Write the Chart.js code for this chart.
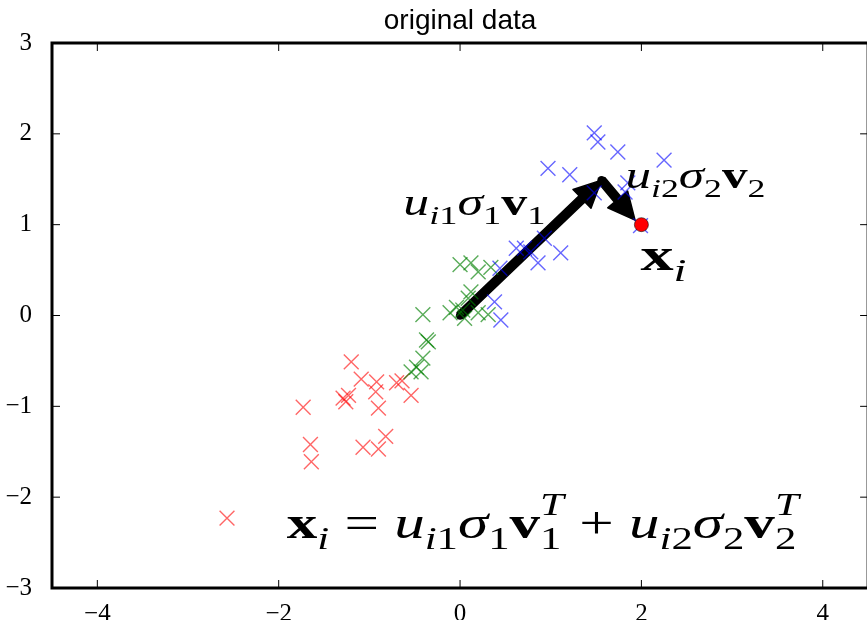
<!DOCTYPE html>
<html>
<head>
<meta charset="utf-8">
<script src="https://cdn.jsdelivr.net/npm/chart.js@4.4.0/dist/chart.umd.min.js"></script>
<style>
  html, body { margin: 0; padding: 0; overflow: hidden; background: #fff; }
  canvas { display: block; }
</style>
</head>
<body>
<canvas id="chOriginal" width="880" height="620"></canvas>
<script>
// Data
const X_TICKS = [-4, -2, 0, 2, 4];
const Y_TICKS = [-3, -2, -1, 0, 1, 2, 3];

const redPts = [
    { x: -1.73, y: -1.01 }, { x: -1.65, y: -1.42 }, { x: -1.64, y: -1.61 },
    { x: -1.20, y: -0.51 }, { x: -1.29, y: -0.91 }, { x: -1.26, y: -0.95 },
    { x: -1.23, y: -0.88 }, { x: -1.09, y: -0.70 }, { x: -0.92, y: -0.73 },
    { x: -0.93, y: -0.84 }, { x: -0.90, y: -1.02 }, { x: -1.07, y: -1.45 },
    { x: -0.90, y: -1.47 }, { x: -0.82, y: -1.33 }, { x: -0.70, y: -0.74 },
    { x: -0.64, y: -0.72 }, { x: -0.54, y: -0.88 }, { x: -2.57, y: -2.23 }
];
const greenPts = [
    { x: -0.35, y: -0.29 }, { x: -0.37, y: -0.27 }, { x: -0.41, y: -0.47 },
    { x: -0.54, y: -0.62 }, { x: -0.43, y: -0.62 }, { x: -0.48, y: -0.57 },
    { x: -0.41, y: 0.01 }, { x: -0.11, y: 0.03 }, { x: -0.04, y: 0.09 },
    { x: 0.03, y: 0.06 }, { x: 0.05, y: -0.03 }, { x: 0.20, y: 0.03 },
    { x: 0.31, y: 0.01 }, { x: 0.09, y: 0.19 }, { x: 0.12, y: 0.26 },
    { x: 0.00, y: 0.56 }, { x: 0.12, y: 0.58 }, { x: 0.20, y: 0.48 },
    { x: 0.34, y: 0.53 }
];
const bluePts = [
    { x: 1.48, y: 2.01 }, { x: 1.52, y: 1.91 }, { x: 1.74, y: 1.80 },
    { x: 2.25, y: 1.71 }, { x: 0.97, y: 1.62 }, { x: 1.21, y: 1.55 },
    { x: 1.48, y: 1.35 }, { x: 1.85, y: 1.46 }, { x: 1.82, y: 1.36 },
    { x: 0.93, y: 0.85 }, { x: 0.71, y: 0.74 }, { x: 0.78, y: 0.70 },
    { x: 0.86, y: 0.58 }, { x: 1.11, y: 0.69 }, { x: 0.44, y: 0.52 },
    { x: 0.62, y: 0.74 }, { x: 0.38, y: 0.15 }, { x: 0.45, y: -0.05 },
    { x: 1.99, y: 0.99 }
];
const xiPoint = [{ x: 2, y: 1 }];

// the two component arrows: start -> tip
const arrowV1 = [{ x: 0, y: 0 }, { x: 1.56, y: 1.49 }];
const arrowV2 = [{ x: 1.56, y: 1.49 }, { x: 1.93, y: 1.05 }];

// math labels: [text, font, position, stacked-on-previous]
const lblV1 = [['u', 'i'], ['i', 'i', 'sub'], ['1', 'r', 'sub'], ['σ', 'i'], ['1', 'r', 'sub'], ['v', 'b'], ['1', 'r', 'sub']];
const lblV2 = [['u', 'i'], ['i', 'i', 'sub'], ['2', 'r', 'sub'], ['σ', 'i'], ['2', 'r', 'sub'], ['v', 'b'], ['2', 'r', 'sub']];
const lblXi = [['x', 'b'], ['i', 'i', 'sub']];
const lblFormula = [
    ['x', 'b'], ['i', 'i', 'sub'], [' = ', 'r'],
    ['u', 'i'], ['i', 'i', 'sub'], ['1', 'r', 'sub'], ['σ', 'i'], ['1', 'r', 'sub'], ['v', 'b'], ['1', 'r', 'sub'], ['T', 'i', 'sup', true],
    [' + ', 'r'],
    ['u', 'i'], ['i', 'i', 'sub'], ['2', 'r', 'sub'], ['σ', 'i'], ['2', 'r', 'sub'], ['v', 'b'], ['2', 'r', 'sub'], ['T', 'i', 'sup', true]
];

const SERIF = '"Liberation Serif", "DejaVu Serif", serif';
const fmt = v => (v < 0 ? '\u2212' + Math.abs(v) : String(v));

const mathFont = (kind, size) =>
    (kind === 'i' ? 'italic ' : kind === 'b' ? 'bold ' : '') + size + 'px ' + SERIF;

// lays the segments out; returns total width (draws when draw=true)
function layMath(ctx, segs, x0, base, size, draw) {
    let x = x0, prevStart = x0, prevW = 0;
    segs.forEach(([t, f, pos, stack]) => {
        const s = pos ? size * 0.7 : size;
        ctx.font = mathFont(f, s);
        const w = ctx.measureText(t).width;
        const sx = stack ? prevStart : x;
        const dy = pos === 'sub' ? size * 0.24 : pos === 'sup' ? -size * 0.5 : 0;
        if (draw) ctx.fillText(t, sx, base + dy);
        if (stack) {
            x = prevStart + Math.max(prevW, w);
        } else {
            prevStart = sx; prevW = w; x = sx + w;
        }
    });
    return x - x0;
}

// draw at a given size, stretched sideways to the width seen in the picture
function drawMath(ctx, segs, x0, base, size, width) {
    const w = layMath(ctx, segs, 0, 0, size, false);
    ctx.save();
    ctx.translate(x0, base);
    ctx.scale(width / w, 1);
    layMath(ctx, segs, 0, 0, size, true);
    ctx.restore();
}

const framePlugin = {
    id: 'frame',
    afterDatasetsDraw(chart) {
        const { ctx, chartArea: a, scales } = chart;
        ctx.save();
        ctx.strokeStyle = '#000';
        ctx.lineWidth = 1;
        ctx.beginPath();
        X_TICKS.forEach(v => {
            const px = scales.x.getPixelForValue(v);
            ctx.moveTo(px, a.bottom); ctx.lineTo(px, a.bottom - 8);
            ctx.moveTo(px, a.top); ctx.lineTo(px, a.top + 8);
        });
        Y_TICKS.forEach(v => {
            const py = scales.y.getPixelForValue(v);
            ctx.moveTo(a.left, py); ctx.lineTo(a.left + 8, py);
            ctx.moveTo(a.right, py); ctx.lineTo(a.right - 8, py);
        });
        ctx.stroke();
        ctx.lineWidth = 3;
        ctx.strokeRect(a.left, a.top, a.right - a.left, a.bottom - a.top);
        ctx.restore();
    }
};

const arrowPlugin = {
    id: 'arrows',
    beforeDatasetsDraw(chart) {
        const { ctx, scales } = chart;
        ctx.save();
        ctx.fillStyle = '#000';
        ctx.strokeStyle = '#000';
        ctx.lineWidth = 1.5;
        ctx.lineJoin = 'round';
        [arrowV1, arrowV2].forEach(([p0, p1]) => {
            const x0 = scales.x.getPixelForValue(p0.x), y0 = scales.y.getPixelForValue(p0.y);
            const x1 = scales.x.getPixelForValue(p1.x), y1 = scales.y.getPixelForValue(p1.y);
            const len = Math.hypot(x1 - x0, y1 - y0);
            const dx = (x1 - x0) / len, dy = (y1 - y0) / len;
            const nx = -dy, ny = dx;
            const w = 4.2, hw = 13, hl = 27;
            const bx = x1 - dx * hl, by = y1 - dy * hl;
            ctx.beginPath();
            ctx.moveTo(x0 + nx * w, y0 + ny * w);
            ctx.lineTo(bx + nx * w, by + ny * w);
            ctx.lineTo(bx + nx * hw, by + ny * hw);
            ctx.lineTo(x1, y1);
            ctx.lineTo(bx - nx * hw, by - ny * hw);
            ctx.lineTo(bx - nx * w, by - ny * w);
            ctx.lineTo(x0 - nx * w, y0 - ny * w);
            ctx.closePath();
            ctx.fill();
            ctx.stroke();
            ctx.beginPath();
            ctx.arc(x0, y0, w, 0, Math.PI * 2);
            ctx.fill();
        });
        ctx.restore();
    }
};

const mathPlugin = {
    id: 'mathText',
    afterDraw(chart) {
        const { ctx, scales } = chart;
        const X = v => scales.x.getPixelForValue(v), Y = v => scales.y.getPixelForValue(v);
        ctx.save();
        ctx.fillStyle = '#000';
        ctx.textBaseline = 'alphabetic';
        ctx.textAlign = 'left';
        drawMath(ctx, lblV1, X(-0.626), Y(1.107), 37, 142);
        drawMath(ctx, lblV2, X(1.824), Y(1.404), 37, 140);
        drawMath(ctx, lblXi, X(1.989), Y(0.501), 46, 46);
        drawMath(ctx, lblFormula, X(-1.912), Y(-2.450), 46, 512);
        ctx.restore();
    }
};

const crossSet = (data, color, order) => ({
    data, order,
    pointStyle: 'crossRot',
    pointRadius: 10.5,
    pointBorderWidth: 1.4,
    borderColor: color,
    backgroundColor: color
});

const tickFont = { family: SERIF, size: 25, lineHeight: 1.2 };

new Chart(document.getElementById('chOriginal'), {
    type: 'scatter',
    data: {
        datasets: [
            { data: xiPoint, order: 0, pointStyle: 'circle', pointRadius: 7, backgroundColor: '#ff0000', borderColor: 'rgba(0,0,0,0.7)', pointBorderWidth: 0.8 },
            crossSet(bluePts, 'rgba(0,0,255,0.6)', 1),
            crossSet(greenPts, 'rgba(0,128,0,0.65)', 2),
            crossSet(redPts, 'rgba(255,0,0,0.6)', 3)
        ]
    },
    options: {
        responsive: false,
        animation: false,
        layout: { padding: { right: 8.5 } },
        plugins: {
            legend: { display: false },
            tooltip: { enabled: false },
            title: {
                display: true,
                text: 'original data',
                fullSize: false,
                color: '#000',
                font: { family: '"Liberation Sans", Arial, sans-serif', size: 28, weight: 'normal', lineHeight: 1.2 },
                padding: { top: 4, bottom: 5.4 }
            }
        },
        scales: {
            x: {
                type: 'linear', min: -4.5, max: 4.5,
                afterBuildTicks: s => { s.ticks = X_TICKS.map(v => ({ value: v })); },
                afterFit: s => { s.height = 32; },
                grid: { display: false },
                border: { display: false },
                ticks: { padding: 3, color: '#000', font: tickFont, callback: fmt }
            },
            y: {
                type: 'linear', min: -3, max: 3,
                afterBuildTicks: s => { s.ticks = Y_TICKS.map(v => ({ value: v })); },
                afterFit: s => { s.width = 52; },
                grid: { display: false },
                border: { display: false },
                ticks: { padding: 12, color: '#000', font: tickFont, callback: fmt }
            }
        }
    },
    plugins: [arrowPlugin, framePlugin, mathPlugin]
});
</script>
</body>
</html>
